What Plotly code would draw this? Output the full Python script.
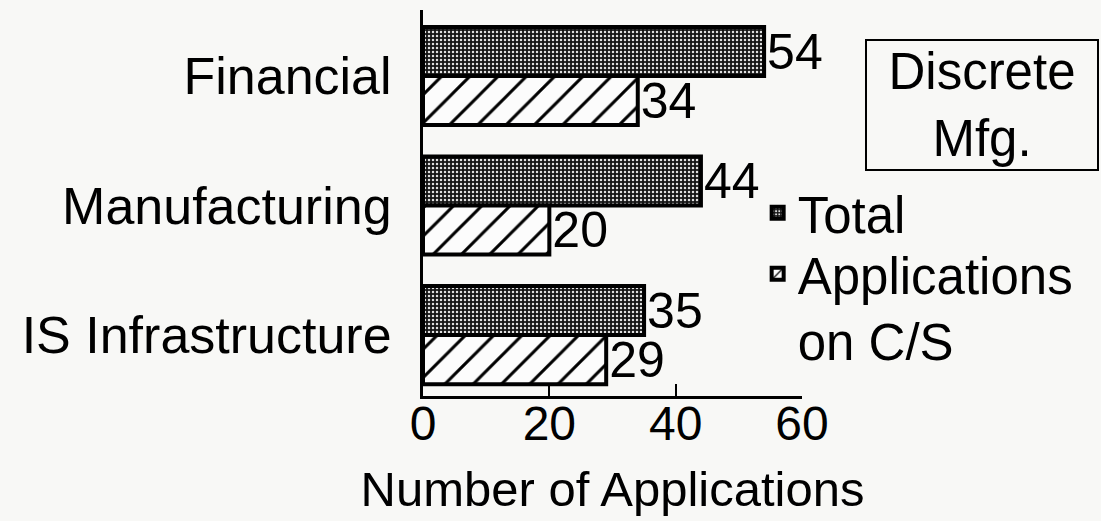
import plotly.graph_objects as go

# Application counts by business area (Discrete Mfg.)
categories = ["Financial", "Manufacturing", "IS Infrastructure"]
total_apps = [54, 44, 35]
cs_apps = [34, 20, 29]
x_ticks = [0, 20, 40, 60]

FONT = "Liberation Sans, Arial, Helvetica, sans-serif"
BG = "#f8f8f6"

fig = go.Figure()

fig.add_trace(go.Bar(
    y=categories, x=total_apps, orientation="h", name="Total",
    legend="legend",
    marker=dict(
        color="#222222",
        line=dict(color="black", width=4),
        pattern=dict(shape=".", fillmode="replace", bgcolor="#151515",
                     fgcolor="#e0e0e0", size=4, solidity=0.3),
    ),
    text=total_apps, texttemplate="%{x}", textposition="outside",
    textfont=dict(family=FONT, size=50, color="black"),
    cliponaxis=False, constraintext="none",
))

fig.add_trace(go.Bar(
    y=categories, x=cs_apps, orientation="h", name="Applications<br>on C/S",
    legend="legend2",
    marker=dict(
        color="white",
        line=dict(color="black", width=4),
        pattern=dict(shape="/", fillmode="replace", bgcolor="#fcfcfc",
                     fgcolor="black", size=20, solidity=0.15),
    ),
    text=cs_apps, texttemplate="%{x}", textposition="outside",
    textfont=dict(family=FONT, size=50, color="black"),
    cliponaxis=False, constraintext="none",
))

legend_style = dict(
    xanchor="left", yanchor="top", bgcolor="rgba(0,0,0,0)",
    font=dict(family=FONT, size=51), valign="top",
)

fig.update_layout(
    width=1101, height=521,
    margin=dict(l=423, r=299, t=10, b=125),
    paper_bgcolor=BG, plot_bgcolor=BG,
    barmode="group", bargap=0.243, bargroupgap=0,
    font=dict(family=FONT, color="black"),
    showlegend=True,
    legend=dict(x=0.883, y=0.5775, **legend_style),
    legend2=dict(x=0.883, y=0.4195, **legend_style),
    annotations=[dict(
        text="Discrete<br>Mfg.", xref="paper", yref="paper",
        x=1.4749, y=0.7539, xanchor="center", yanchor="middle",
        showarrow=False, align="center",
        font=dict(family=FONT, size=51, color="black"),
        bordercolor="black", borderwidth=2, borderpad=2,
        width=226, height=124, bgcolor=BG,
    )],
)

fig.update_xaxes(
    range=[0, 60], tickvals=x_ticks, ticktext=[str(v) for v in x_ticks],
    showgrid=False, zeroline=False,
    showline=True, linecolor="black", linewidth=3,
    ticks="inside", ticklen=12, tickwidth=2, tickcolor="black",
    tickfont=dict(family=FONT, size=48),
    ticklabelstandoff=-17,
    title=dict(text="Number of Applications", font=dict(family=FONT, size=49),
               standoff=24),
)

fig.update_yaxes(
    categoryorder="array", categoryarray=categories,
    range=[2.47, -0.51],
    showgrid=False, zeroline=False,
    showline=True, linecolor="black", linewidth=3,
    ticks="", tickfont=dict(family=FONT, size=52),
    ticklabelstandoff=18,
)

fig.write_html("out.html")
